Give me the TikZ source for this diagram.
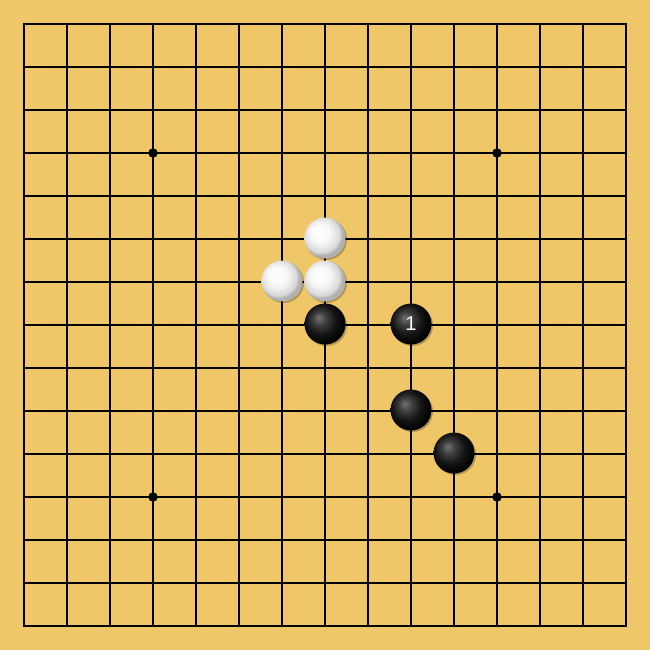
\documentclass[tikz,border=0pt]{standalone}
\usepackage{fontspec}
\setmainfont{Liberation Sans}
\definecolor{wood}{RGB}{240,199,104}
\pgfdeclareradialshading{wball}{\pgfpoint{-8bp}{8bp}}{%
  color(0bp)=(white); color(12bp)=(white!97!black); color(22bp)=(white!85!black); color(25bp)=(white!70!black); color(50bp)=(white!70!black)}
\pgfdeclareradialshading{bball}{\pgfpoint{-8bp}{8bp}}{%
  color(0bp)=(black!55); color(8bp)=(black!75); color(18bp)=(black!92); color(28bp)=(black); color(50bp)=(black)}
\tikzset{
  gridline/.style={line width=1.2pt,black},
  borderline/.style={line width=2.4pt,black},
  starpt/.style={circle,fill=black,inner sep=0pt,minimum size=9.5pt},
  stone/.style={circle,inner sep=0pt,minimum size=41pt},
  bstone/.style={stone,shading=bball,text=white,font=\fontsize{20pt}{20pt}\selectfont},
  wstone/.style={stone,shading=wball},
  shadowdot/.style={circle,inner sep=0pt,minimum size=41pt,fill=black,opacity=0.25},
}
\begin{document}
\begin{tikzpicture}[x=1pt,y=-1pt]
\useasboundingbox (0,0) rectangle (650,650);
\fill[wood] (0,0) rectangle (650,650);
\foreach \i in {1,...,13}{
  \draw[gridline] (24+43*\i,24) -- (24+43*\i,626);
  \draw[gridline] (24,24+43*\i) -- (626,24+43*\i);
}
\draw[borderline] (24,24) rectangle (626,626);
\node[starpt] (s1) at (153,153) {};
\node[starpt] (s2) at (497,153) {};
\node[starpt] (s3) at (153,497) {};
\node[starpt] (s4) at (497,497) {};
\foreach \x/\y in {325/238,282/281,325/281,325/324,411/324,411/410,454/453}{
  \node[shadowdot] at (\x+1.5,\y+1.5) {};
}
\node[wstone] (w1) at (325,238) {};
\node[wstone] (w2) at (282,281) {};
\node[wstone] (w3) at (325,281) {};
\node[bstone] (b1) at (325,324) {};
\node[bstone] (b2) at (411,324) {1};
\node[bstone] (b3) at (411,410) {};
\node[bstone] (b4) at (454,453) {};
\end{tikzpicture}
\end{document}
